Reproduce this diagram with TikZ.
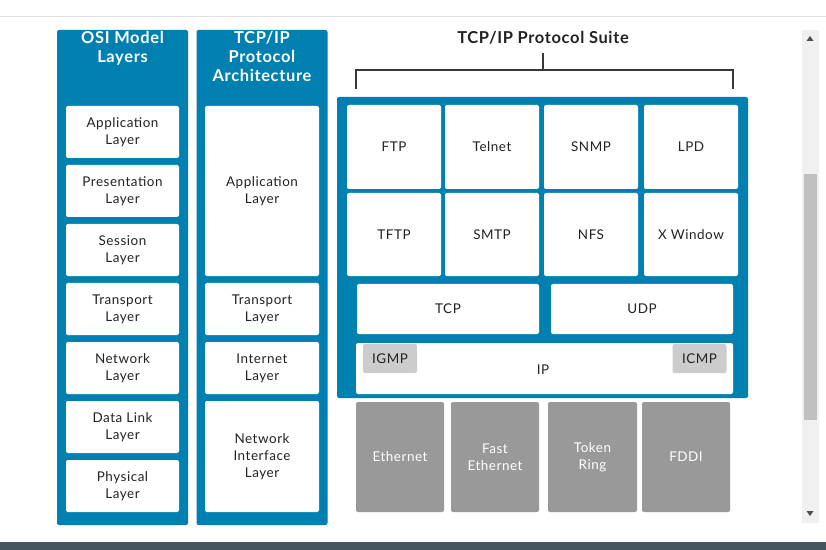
\documentclass[tikz,border=0pt]{standalone}
\usepackage{fontspec}
\setmainfont{Lato}[LetterSpace=4]
\usepackage{tikz}
\usetikzlibrary{positioning}

\definecolor{layerblue}{HTML}{007FB1}
\definecolor{linkgray}{HTML}{999999}
\definecolor{tabgray}{HTML}{CCCCCC}
\definecolor{inkdark}{HTML}{222222}
\definecolor{barslate}{HTML}{45555F}
\definecolor{trackgray}{HTML}{F0F0F0}
\definecolor{thumbgray}{HTML}{C0C0C0}

\begin{document}
\begin{tikzpicture}[x=1bp,y=-1bp,
  every node/.style={inner sep=0pt,outer sep=0pt},
  column/.style={rectangle,fill=layerblue,rounded corners=2bp,minimum width=131bp,minimum height=495bp},
  header/.style={align=center,text=white,font=\fontsize{16.5}{19}\selectfont\bfseries},
  layer/.style={rectangle,fill=white,rounded corners=2bp,align=center,text=inkdark,font=\fontsize{13.5}{17}\selectfont},
  proto/.style={layer,minimum width=94bp},
  tab/.style={rectangle,fill=tabgray,rounded corners=2bp,minimum width=54bp,minimum height=29bp,text=inkdark,font=\fontsize{13.5}{17}\selectfont},
  link/.style={rectangle,fill=linkgray,rounded corners=2bp,align=center,text=white,minimum width=88bp,minimum height=110bp,font=\fontsize{13.5}{17}\selectfont}]
  \useasboundingbox (0,0) rectangle (826,550);
  \fill[white] (0,0) rectangle (826,550);
  % page edges
  \fill[black!12] (0,16) rectangle (826,17.5);
  \fill[barslate] (0,542) rectangle (826,550);
  \fill[trackgray] (802,30) rectangle (818.5,523);
  \fill[thumbgray] (804,174) rectangle (817,420);
  \fill[black!70] (806.5,41) -- (813.5,41) -- (810,36) -- cycle;
  \fill[black!70] (806.5,511) -- (813.5,511) -- (810,516) -- cycle;

  % OSI model column
  \node[column] (osi) at (122.5,277.5) {};
  \node[header] (osihead) at (122.5,48.5) {OSI Model\\Layers};
  \node[layer,minimum width=113bp,minimum height=52bp] (app) at (122.5,132) {Application\\Layer};
  \node[layer,minimum width=113bp,minimum height=52bp] (pres) at (122.5,191) {Presentation\\Layer};
  \node[layer,minimum width=113bp,minimum height=52bp] (sess) at (122.5,250) {Session\\Layer};
  \node[layer,minimum width=113bp,minimum height=52bp] (trans) at (122.5,309) {Transport\\Layer};
  \node[layer,minimum width=113bp,minimum height=52bp] (net) at (122.5,368) {Network\\Layer};
  \node[layer,minimum width=113bp,minimum height=52bp] (dlink) at (122.5,427) {Data Link\\Layer};
  \node[layer,minimum width=113bp,minimum height=52bp] (phys) at (122.5,486) {Physical\\Layer};

  % TCP/IP architecture column
  \node[column] (arch) at (262,277.5) {};
  \node[header] (archhead) at (262,56.5) {TCP/IP\\Protocol\\Architecture};
  \node[layer,minimum width=114bp,minimum height=170bp] (tapp) at (262,191) {Application\\Layer};
  \node[layer,minimum width=114bp,minimum height=52bp] (ttrans) at (262,309) {Transport\\Layer};
  \node[layer,minimum width=114bp,minimum height=52bp] (tinet) at (262,368) {Internet\\Layer};
  \node[layer,minimum width=114bp,minimum height=111bp] (tnif) at (262,456.5) {Network\\Interface\\Layer};

  % protocol suite
  \node[font=\fontsize{16.5}{19}\selectfont\bfseries,text=inkdark] (suite) at (543,37.5) {TCP/IP Protocol Suite};
  \coordinate (brtop) at (543,53);
  \coordinate (brmid) at (543,70);
  \coordinate (brL) at (356,89);
  \coordinate (brR) at (733,89);
  \draw[inkdark!90,line width=1.6bp] (brtop) -- (brmid);
  \draw[inkdark!90,line width=1.6bp] (brL) -- (brL |- brmid) -- (brR |- brmid) -- (brR);
  \node[rectangle,fill=layerblue,rounded corners=2bp,minimum width=411bp,minimum height=301bp] (suitebox) at (542.5,247.5) {};

  \node[proto,minimum height=84bp] (ftp) at (394,147) {FTP};
  \node[proto,minimum height=84bp] (telnet) at (492,147) {Telnet};
  \node[proto,minimum height=84bp] (snmp) at (591,147) {SNMP};
  \node[proto,minimum height=84bp] (lpd) at (691,147) {LPD};
  \node[proto,minimum height=83bp] (tftp) at (394,234.5) {TFTP};
  \node[proto,minimum height=83bp] (smtp) at (492,234.5) {SMTP};
  \node[proto,minimum height=83bp] (nfs) at (591,234.5) {NFS};
  \node[proto,minimum height=83bp] (xwin) at (691,234.5) {X Window};

  \node[layer,minimum width=182bp,minimum height=50bp] (tcp) at (448,309) {TCP};
  \node[layer,minimum width=182bp,minimum height=50bp] (udp) at (642,309) {UDP};
  \node[layer,minimum width=377bp,minimum height=51bp] (ip) at (544.5,368.5) {};
  \node[text=inkdark,font=\fontsize{13.5}{17}\selectfont] (iplabel) at (543,369.5) {IP};
  \node[tab] (igmp) at (390,358.5) {IGMP};
  \node[tab] (icmp) at (699.5,358.5) {ICMP};

  % network access
  \node[link] (eth) at (400,457) {Ethernet};
  \node[link] (feth) at (495,457) {Fast\\Ethernet};
  \node[link,minimum width=89bp] (ring) at (592.5,457) {Token\\Ring};
  \node[link] (fddi) at (686,457) {FDDI};
\end{tikzpicture}
\end{document}
